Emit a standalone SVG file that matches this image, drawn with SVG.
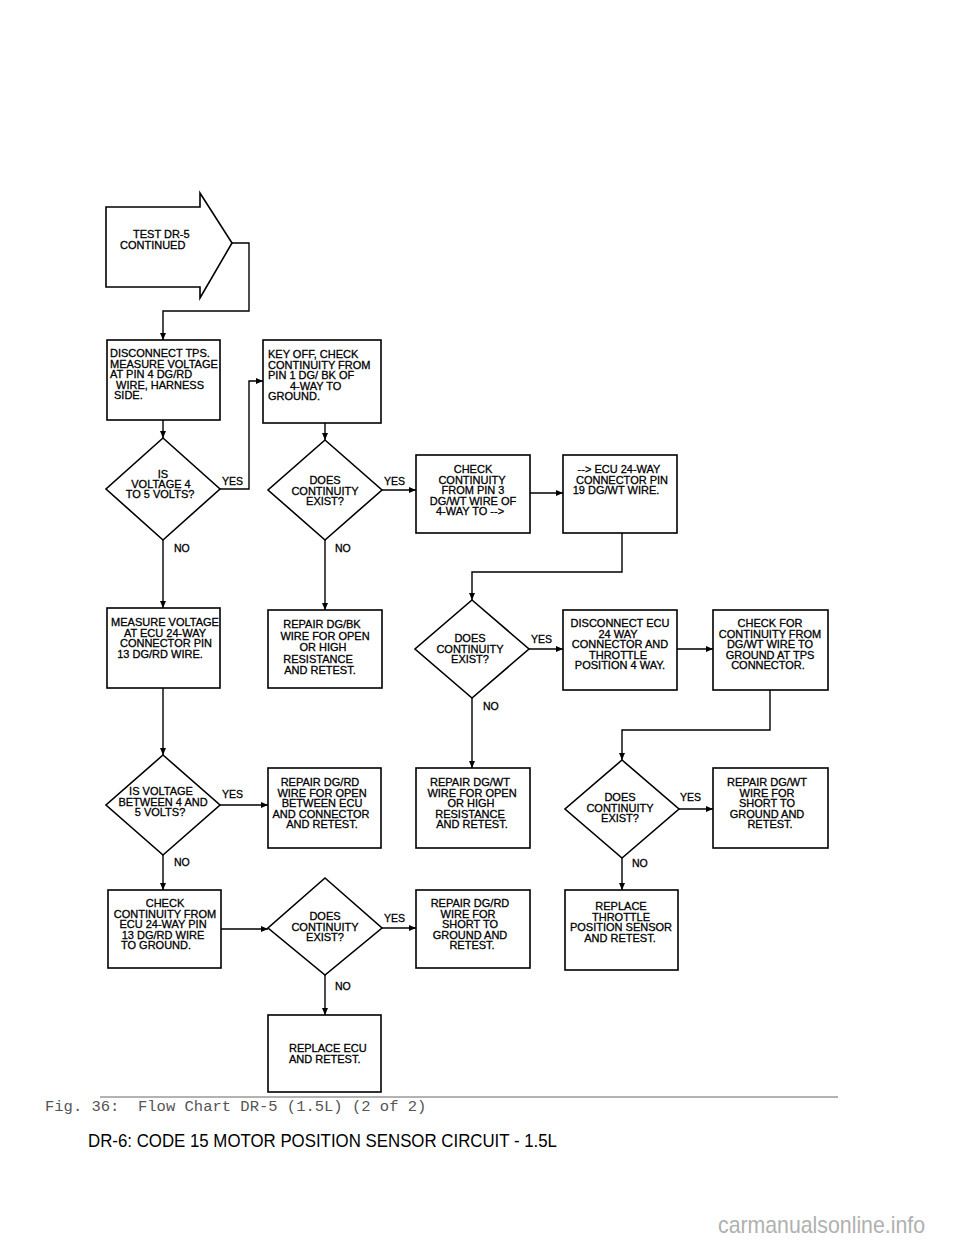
<svg xmlns="http://www.w3.org/2000/svg" width="960" height="1242" viewBox="0 0 960 1242">
<style>
.bx{fill:#fff;stroke:#000;stroke-width:1.6}
.t{font-family:"Liberation Sans",Arial,sans-serif;font-size:11px;fill:#000;stroke:#000;stroke-width:0.3}
.c{text-anchor:middle}
.lb{font-family:"Liberation Sans",Arial,sans-serif;font-size:10.5px;fill:#000;stroke:#000;stroke-width:0.3}
.cn{fill:none;stroke:#000;stroke-width:1.4;marker-end:url(#ah)}
</style>
<defs>
<marker id="ah" markerWidth="7" markerHeight="6" refX="7" refY="3" orient="auto" markerUnits="userSpaceOnUse">
<path d="M0,0 L7,3 L0,6 z" fill="#000"/>
</marker>
</defs>
<rect width="960" height="1242" fill="#fff"/>

<g id="connectors">
<path class="cn" d="M232,243 H249 V311 H163 V340"/>
<path class="cn" d="M163,420 V438"/>
<path class="cn" d="M220,489 H249 V381 H263"/>
<path class="cn" d="M325,423 V440"/>
<path class="cn" d="M382,490 H416"/>
<path class="cn" d="M530,493 H563"/>
<path class="cn" d="M622,533 V572 H472 V600"/>
<path class="cn" d="M529,649 H563"/>
<path class="cn" d="M677,649 H713"/>
<path class="cn" d="M770,690 V730 H622 V760"/>
<path class="cn" d="M679,809 H713"/>
<path class="cn" d="M622,858 V890"/>
<path class="cn" d="M472,698 V768"/>
<path class="cn" d="M325,540 V610"/>
<path class="cn" d="M163,540 V608"/>
<path class="cn" d="M163,688 V755"/>
<path class="cn" d="M220,805 H268"/>
<path class="cn" d="M163,855 V890"/>
<path class="cn" d="M221,929 H268"/>
<path class="cn" d="M382,928 H416"/>
<path class="cn" d="M325,975 V1015"/>
<text class="lb" x="222" y="485">YES</text>
<text class="lb" x="174" y="552">NO</text>
<text class="lb" x="384" y="485">YES</text>
<text class="lb" x="335" y="552">NO</text>
<text class="lb" x="531" y="643">YES</text>
<text class="lb" x="483" y="710">NO</text>
<text class="lb" x="680" y="801">YES</text>
<text class="lb" x="632" y="867">NO</text>
<text class="lb" x="222" y="798">YES</text>
<text class="lb" x="174" y="866">NO</text>
<text class="lb" x="384" y="922">YES</text>
<text class="lb" x="335" y="990">NO</text>
</g>

<g id="start">
<path class="bx" d="M106,207 H200 V193 L232,243 L200,298 V287 H106 Z"/>
<text class="t" x="133" y="238">TEST DR-5</text>
<text class="t" x="120" y="249">CONTINUED</text>
</g>

<g id="n_disconnect_tps">
<rect class="bx" x="107" y="340" width="113" height="80"/>
<text class="t" x="110" y="357">DISCONNECT TPS.</text>
<text class="t" x="110" y="367.5">MEASURE VOLTAGE</text>
<text class="t" x="110" y="378">AT PIN 4 DG/RD</text>
<text class="t" x="116" y="388.5">WIRE, HARNESS</text>
<text class="t" x="114" y="399">SIDE.</text>
</g>

<g id="n_key_off">
<rect class="bx" x="263" y="340" width="118" height="83"/>
<text class="t" x="268" y="358">KEY OFF, CHECK</text>
<text class="t" x="268" y="368.5">CONTINUITY FROM</text>
<text class="t" x="268" y="379">PIN 1 DG/ BK OF</text>
<text class="t" x="290" y="389.5">4-WAY TO</text>
<text class="t" x="268" y="400">GROUND.</text>
</g>

<g id="d_voltage_4_5">
<path class="bx" d="M163,438 L220,489 L163,540 L106,489 Z"/>
<text class="t c" x="163" y="478">IS</text>
<text class="t c" x="161" y="488">VOLTAGE 4</text>
<text class="t c" x="160" y="498">TO 5 VOLTS?</text>
</g>

<g id="d_cont_1">
<path class="bx" d="M325,440 L382,490 L325,540 L268,490 Z"/>
<text class="t c" x="325" y="484">DOES</text>
<text class="t c" x="325" y="494.5">CONTINUITY</text>
<text class="t c" x="325" y="505">EXIST?</text>
</g>

<g id="n_check_pin3">
<rect class="bx" x="416" y="455" width="114" height="78"/>
<text class="t c" x="473" y="473">CHECK</text>
<text class="t c" x="472" y="483.5">CONTINUITY</text>
<text class="t c" x="473" y="494">FROM PIN 3</text>
<text class="t c" x="473" y="504.5">DG/WT WIRE OF</text>
<text class="t c" x="470" y="515">4-WAY TO --&gt;</text>
</g>

<g id="n_ecu_pin19">
<rect class="bx" x="563" y="455" width="114" height="78"/>
<text class="t c" x="619" y="473">--&gt; ECU 24-WAY</text>
<text class="t c" x="622" y="483.5">CONNECTOR PIN</text>
<text class="t c" x="616" y="494">19 DG/WT WIRE.</text>
</g>

<g id="d_cont_2">
<path class="bx" d="M472,600 L529,649 L472,698 L415,649 Z"/>
<text class="t c" x="470" y="642">DOES</text>
<text class="t c" x="470" y="652.5">CONTINUITY</text>
<text class="t c" x="470" y="663">EXIST?</text>
</g>

<g id="n_disconnect_ecu">
<rect class="bx" x="563" y="610" width="114" height="80"/>
<text class="t c" x="620" y="627">DISCONNECT ECU</text>
<text class="t c" x="618" y="637.5">24 WAY</text>
<text class="t c" x="620" y="648">CONNECTOR AND</text>
<text class="t c" x="618" y="658.5">THROTTLE</text>
<text class="t c" x="620" y="669">POSITION 4 WAY.</text>
</g>

<g id="n_check_tps">
<rect class="bx" x="713" y="610" width="115" height="80"/>
<text class="t c" x="770" y="627">CHECK FOR</text>
<text class="t c" x="770" y="637.5">CONTINUITY FROM</text>
<text class="t c" x="770" y="648">DG/WT WIRE TO</text>
<text class="t c" x="770" y="658.5">GROUND AT TPS</text>
<text class="t c" x="768" y="669">CONNECTOR.</text>
</g>

<g id="d_cont_3">
<path class="bx" d="M622,760 L679,809 L622,858 L565,809 Z"/>
<text class="t c" x="620" y="801">DOES</text>
<text class="t c" x="620" y="811.5">CONTINUITY</text>
<text class="t c" x="620" y="822">EXIST?</text>
</g>

<g id="n_repair_dgwt_short">
<rect class="bx" x="713" y="768" width="115" height="80"/>
<text class="t c" x="767" y="786">REPAIR DG/WT</text>
<text class="t c" x="767" y="796.5">WIRE FOR</text>
<text class="t c" x="767" y="807">SHORT TO</text>
<text class="t c" x="767" y="817.5">GROUND AND</text>
<text class="t c" x="770" y="828">RETEST.</text>
</g>

<g id="n_replace_tps">
<rect class="bx" x="565" y="890" width="113" height="80"/>
<text class="t c" x="621" y="910">REPLACE</text>
<text class="t c" x="621" y="920.5">THROTTLE</text>
<text class="t c" x="621" y="931">POSITION SENSOR</text>
<text class="t c" x="620" y="941.5">AND RETEST.</text>
</g>

<g id="n_repair_dgwt_open">
<rect class="bx" x="416" y="768" width="114" height="80"/>
<text class="t c" x="470" y="786">REPAIR DG/WT</text>
<text class="t c" x="472" y="796.5">WIRE FOR OPEN</text>
<text class="t c" x="471" y="807">OR HIGH</text>
<text class="t c" x="470" y="817.5">RESISTANCE</text>
<text class="t c" x="472" y="828">AND RETEST.</text>
</g>

<g id="n_repair_dgbk">
<rect class="bx" x="268" y="610" width="114" height="78"/>
<text class="t c" x="322" y="628">REPAIR DG/BK</text>
<text class="t c" x="325" y="639.5">WIRE FOR OPEN</text>
<text class="t c" x="323" y="651">OR HIGH</text>
<text class="t c" x="318" y="662.5">RESISTANCE</text>
<text class="t c" x="320" y="674">AND RETEST.</text>
</g>

<g id="n_measure_ecu">
<rect class="bx" x="107" y="608" width="113" height="80"/>
<text class="t c" x="165" y="626">MEASURE VOLTAGE</text>
<text class="t c" x="165" y="636.5">AT ECU 24-WAY</text>
<text class="t c" x="166" y="647">CONNECTOR PIN</text>
<text class="t c" x="160" y="657.5">13 DG/RD WIRE.</text>
</g>

<g id="d_voltage_between">
<path class="bx" d="M163,755 L220,805 L163,855 L106,805 Z"/>
<text class="t c" x="161" y="795">IS VOLTAGE</text>
<text class="t c" x="163" y="805.5">BETWEEN 4 AND</text>
<text class="t c" x="160" y="816">5 VOLTS?</text>
</g>

<g id="n_repair_dgrd_open">
<rect class="bx" x="268" y="768" width="113" height="80"/>
<text class="t c" x="320" y="786">REPAIR DG/RD</text>
<text class="t c" x="322" y="796.5">WIRE FOR OPEN</text>
<text class="t c" x="322" y="807">BETWEEN ECU</text>
<text class="t c" x="321" y="817.5">AND CONNECTOR</text>
<text class="t c" x="322" y="828">AND RETEST.</text>
</g>

<g id="n_check_ecu_pin13">
<rect class="bx" x="108" y="890" width="113" height="78"/>
<text class="t c" x="165" y="907">CHECK</text>
<text class="t c" x="165" y="917.5">CONTINUITY FROM</text>
<text class="t c" x="163" y="928">ECU 24-WAY PIN</text>
<text class="t c" x="163" y="938.5">13 DG/RD WIRE</text>
<text class="t c" x="156" y="949">TO GROUND.</text>
</g>

<g id="d_cont_4">
<path class="bx" d="M325,878 L382,928 L325,975 L268,928 Z"/>
<text class="t c" x="325" y="920">DOES</text>
<text class="t c" x="325" y="930.5">CONTINUITY</text>
<text class="t c" x="325" y="941">EXIST?</text>
</g>

<g id="n_repair_dgrd_short">
<rect class="bx" x="416" y="890" width="114" height="78"/>
<text class="t c" x="470" y="907">REPAIR DG/RD</text>
<text class="t c" x="468" y="917.5">WIRE FOR</text>
<text class="t c" x="470" y="928">SHORT TO</text>
<text class="t c" x="470" y="938.5">GROUND AND</text>
<text class="t c" x="472" y="949">RETEST.</text>
</g>

<g id="n_replace_ecu">
<rect class="bx" x="268" y="1015" width="113" height="77"/>
<text class="t" x="289" y="1052">REPLACE ECU</text>
<text class="t" x="289" y="1062.5">AND RETEST.</text>
</g>

<g id="caption">
<line x1="100" y1="1097" x2="838" y2="1097" stroke="#666" stroke-width="1"/>
<text x="45" y="1111" font-family="'Liberation Mono','Courier New',monospace" font-size="15.5" fill="#555" xml:space="preserve">Fig. 36:  Flow Chart DR-5 (1.5L) (2 of 2)</text>
<text x="88" y="1147" font-family="'Liberation Sans',Arial,sans-serif" font-size="19" fill="#000" textLength="469" lengthAdjust="spacingAndGlyphs">DR-6: CODE 15 MOTOR POSITION SENSOR CIRCUIT - 1.5L</text>
<text x="718" y="1233" font-family="'Liberation Sans',Arial,sans-serif" font-size="24" fill="#b0b0b0" textLength="207" lengthAdjust="spacingAndGlyphs">carmanualsonline.info</text>
</g>
</svg>
